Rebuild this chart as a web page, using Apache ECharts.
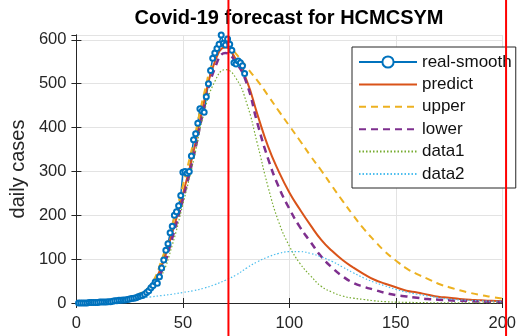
<!DOCTYPE html>
<html>
<head>
<meta charset="utf-8">
<script src="https://cdn.jsdelivr.net/npm/echarts@6/dist/echarts.min.js"></script>
<style>
  html, body { margin: 0; padding: 0; background: #fff; }
  #chart { width: 519px; height: 336px; }
</style>
</head>
<body>
<div id="chart"></div>
<script>
// Observed daily cases (smoothed), day 1..79
const realDays = [];
for (let d = 1; d <= 79; d++) realDays.push(d);
const realSmooth = [0,0,0,0,0,1,1,1,1,1,2,2,2,2,3,3,4,5,5,6,6,7,7,8,9,10,11,12,14,16,
  17,20,24,28,35,40,48,45,60,80,98,120,135,160,175,200,208,222,245,298,300,296,300,335,372,
  386,410,443,438,435,470,500,530,558,570,580,590,611,592,588,602,590,576,548,545,552,548,541,523];

// Model curves sampled every 5 days
const modelDays = [];
for (let d = 0; d <= 200; d += 5) modelDays.push(d);
const predict = [0.5,1,2,3,6,10,18,35,85,160,248,345,460,550,583,555,507,430,357,300,252,
  213,177,144,119,98,81,66,53,44,36,28,24,19,14.5,12,9,7.5,6,5,4];
const upper = [0.5,1,2,4,7,12,22,42,98,178,268,368,478,562,594,568,537,507,473,438,404,
  370,335,302,267,233,200,169,142,117,97,79,66,55,44,36,29,23,18,14,10];
const lower = [0.5,1,1.5,3,5,9,15,30,72,148,236,333,445,535,570,548,500,410,329,265,215,
  173,139,106,81,61,46,37,30,23,18,15,12,9,7.5,6,5,4,3,2.5,2];
const data1 = [0,0.5,1,2,4,7,13,27,62,132,225,325,435,505,532,512,455,363,265,185,130,
  90,62,38,25,16,11,8,5,3,2,1.5,1,0.6,0.4,0.3,0.2,0.1,0.1,0,0];
const data2 = [1,2,3,4,6,8,11,14,17,20,24,28,34,42,52,64,80,94,105,113,117,
  117,113,105,95,82,69,57,47,39,31,25,20,16,12,9,7,6,5,4,4];

// Vertical reference marks (day positions)
const refDays = [71.4, 201.8];

const xTicks = { min: 0, max: 200, interval: 50 };
const yTicks = { min: 0, max: 611, interval: 100 };

const pairs = (xs, ys) => xs.map((x, i) => [x, ys[i]]);

const chart = echarts.init(document.getElementById('chart'), null, { renderer: 'canvas' });

const FONT = 'Liberation Sans, Arial, sans-serif';
const axisColor = '#262626';
const gridColor = '#e3e3e3';
const labelStyle = { color: axisColor, fontSize: 16.5, fontFamily: FONT };
const hidden = { opacity: 0 };

const modelLine = (name, ys, color, width, type) => ({
  name, type: 'line', data: pairs(modelDays, ys),
  smooth: true,
  symbol: 'none',
  lineStyle: { color, width, type },
  itemStyle: { color }
});

const option = {
  animation: false,
  backgroundColor: '#fff',
  title: {
    text: 'Covid-19 forecast for HCMCSYM',
    left: 289,
    top: 8,
    textAlign: 'center',
    padding: 0,
    textStyle: { fontSize: 20, fontWeight: 'bold', color: '#000', fontFamily: FONT }
  },
  grid: { left: 73, right: 15, top: 35, bottom: 33, containLabel: false },
  legend: {
    orient: 'vertical',
    left: 352,
    top: 47,
    width: 165,
    padding: [5, 4, 4, 6],
    itemWidth: 58,
    itemHeight: 14,
    itemGap: 2.4,
    backgroundColor: '#fff',
    borderColor: axisColor,
    borderWidth: 1,
    borderRadius: 0,
    textStyle: { color: '#111', fontSize: 17, lineHeight: 20, fontFamily: FONT },
    data: [
      { name: 'real-smooth', itemStyle: { color: '#0072BD', borderWidth: 1.5 } },
      { name: 'predict', itemStyle: hidden },
      { name: 'upper', itemStyle: hidden },
      { name: 'lower', itemStyle: hidden },
      { name: 'data1', itemStyle: hidden },
      { name: 'data2', itemStyle: hidden }
    ]
  },
  xAxis: [
    {
      type: 'value', min: xTicks.min, max: xTicks.max, interval: xTicks.interval,
      axisLine: { onZero: false, lineStyle: { color: axisColor, width: 1 } },
      axisTick: { inside: true, length: 5, lineStyle: { color: axisColor } },
      axisLabel: Object.assign({ margin: 12 }, labelStyle),
      splitLine: { show: true, lineStyle: { color: gridColor, width: 1 } }
    },
    {
      type: 'value', position: 'top', min: xTicks.min, max: xTicks.max, interval: xTicks.interval,
      axisLine: { show: true, lineStyle: { color: axisColor, width: 1 } },
      axisTick: { inside: true, length: 5, lineStyle: { color: axisColor } },
      axisLabel: { show: false },
      splitLine: { show: false }
    }
  ],
  yAxis: [
    {
      type: 'value', min: yTicks.min, max: yTicks.max, interval: yTicks.interval,
      name: 'daily cases', nameLocation: 'middle', nameGap: 46, nameRotate: 90,
      nameTextStyle: { color: axisColor, fontSize: 20, fontFamily: FONT },
      axisLine: { show: true, onZero: false, lineStyle: { color: axisColor, width: 1 } },
      axisTick: { inside: true, length: 5, lineStyle: { color: axisColor } },
      axisLabel: Object.assign({ margin: 10, showMaxLabel: false }, labelStyle),
      splitLine: { show: true, lineStyle: { color: gridColor, width: 1 } }
    },
    {
      type: 'value', position: 'right', min: yTicks.min, max: yTicks.max, interval: yTicks.interval,
      axisLine: { show: true, lineStyle: { color: axisColor, width: 1 } },
      axisTick: { inside: true, length: 5, lineStyle: { color: axisColor } },
      axisLabel: { show: false },
      splitLine: { show: false }
    }
  ],
  series: [
    {
      name: 'real-smooth', type: 'line', data: pairs(realDays, realSmooth),
      symbol: 'emptyCircle', symbolSize: 5, showSymbol: true,
      lineStyle: { color: '#0072BD', width: 1.5 },
      itemStyle: { color: '#0072BD', borderWidth: 1.5 }
    },
    modelLine('predict', predict, '#D95319', 2, 'solid'),
    modelLine('upper', upper, '#EDB120', 2, [7, 5]),
    modelLine('lower', lower, '#7E2F8E', 2.5, [7, 5]),
    modelLine('data1', data1, '#77AC30', 1.2, [1.5, 2]),
    modelLine('data2', data2, '#4DBEEE', 1.2, [1.5, 2])
  ]
};

chart.setOption(option);

// Red day markers across the full height, placed through the x scale
const H = chart.getHeight();
chart.setOption({
  graphic: refDays.map((d) => {
    const px = chart.convertToPixel({ xAxisIndex: 0 }, d);
    return {
      type: 'line', z: 100,
      shape: { x1: px, y1: 0, x2: px, y2: H },
      style: { stroke: '#ff0000', lineWidth: 2 }
    };
  })
});
</script>
</body>
</html>
